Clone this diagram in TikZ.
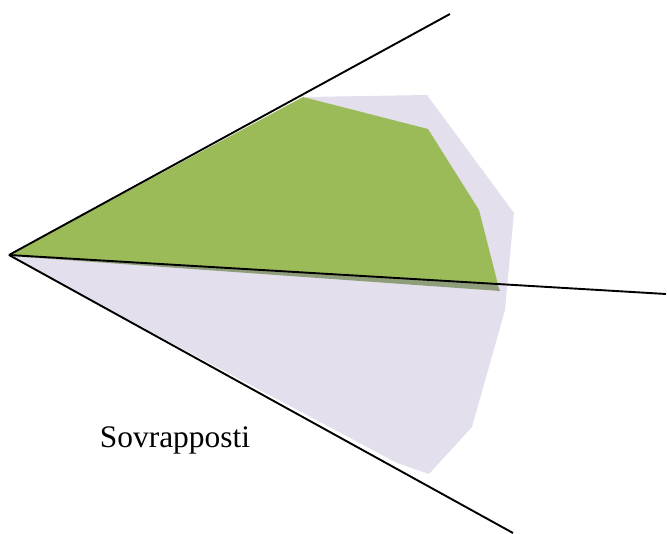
\documentclass[tikz,border=0pt]{standalone}
\usepackage{fontspec}
\setmainfont{Liberation Serif}
\definecolor{fgreen}{HTML}{9BBB59}
\definecolor{flav}{HTML}{E4DFEC}
\definecolor{fstrip}{RGB}{143,158,122}
\begin{document}
\begin{tikzpicture}[x=1pt,y=-1pt,
  ray/.style={draw=black,line width=1.9pt},
  lbl/.style={font=\fontsize{31.4}{36}\selectfont,anchor=base,inner sep=0pt}]
\useasboundingbox (0,0) rectangle (667,534);
% lavender shape
\fill[flav] (12,258) -- (306,97) -- (427,95) -- (514,213) -- (505,310) -- (472,427) -- (429,474) -- (397,463) -- cycle;
% shaded strip
\fill[fstrip] (10,256) -- (500,291) -- (497,283) -- cycle;
% green shape
\fill[fgreen] (9,255) -- (303,97) -- (428,129) -- (479,210) -- (498,284.5) -- cycle;
% rays
\coordinate (O) at (9,255);
\coordinate (A) at (450,14);
\coordinate (B) at (666,294);
\coordinate (C) at (513,533);
\draw[ray] (O) -- (A);
\draw[ray] (O) -- (B);
\draw[ray] (O) -- (C);
\node[lbl] (t) at (175,448) {Sovrapposti};
\end{tikzpicture}
\end{document}
